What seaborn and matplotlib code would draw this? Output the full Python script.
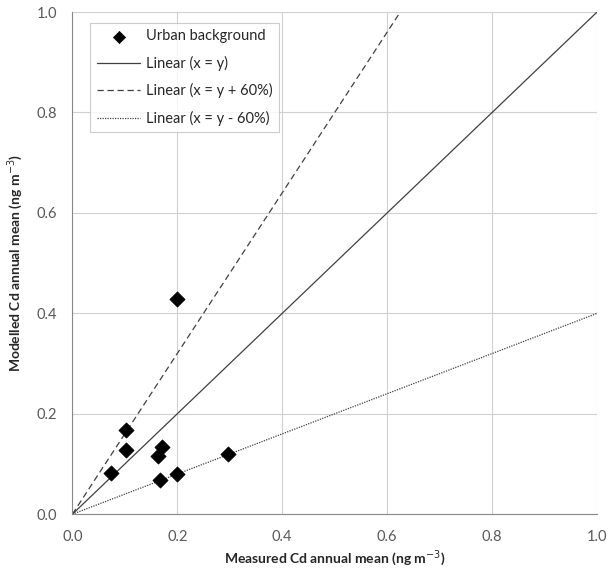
import matplotlib
matplotlib.use("Agg")
import matplotlib.pyplot as plt
import seaborn as sns
import pandas as pd

# measured vs modelled Cd (ng m-3), urban background sites
measured = [0.074, 0.102, 0.102, 0.170, 0.164, 0.167, 0.200, 0.297, 0.200]
modelled = [0.082, 0.167, 0.127, 0.133, 0.115, 0.069, 0.081, 0.120, 0.428]

# reference lines
line_x = [0.0, 1.0]
line_equal = [0.0, 1.0]
line_plus60 = [0.0, 1.6]
line_minus60 = [0.0, 0.4]

ticks = [0.0, 0.2, 0.4, 0.6, 0.8, 1.0]

sns.set_style("white")
plt.rcParams["font.family"] = ["Lato", "DejaVu Sans"]

df = pd.DataFrame({"measured": measured, "modelled": modelled})

fig = plt.figure(figsize=(6.13, 5.72), dpi=100)
ax = fig.add_axes([0.118, 0.101, 0.856, 0.878])

sns.scatterplot(data=df, x="measured", y="modelled", marker="D", s=60,
                color="black", edgecolor="black", linewidth=0.5,
                label="Urban background", ax=ax, zorder=5)
sns.lineplot(x=line_x, y=line_equal, color="#404040", linewidth=0.9,
             label="Linear (x = y)", ax=ax)
sns.lineplot(x=line_x, y=line_plus60, color="#404040", linewidth=0.9,
             linestyle=(0, (5, 3)), label="Linear (x = y + 60%)", ax=ax)
sns.lineplot(x=line_x, y=line_minus60, color="#404040", linewidth=0.9,
             linestyle=(0, (1, 1)), label="Linear (x = y - 60%)", ax=ax)

ax.set_xlim(0, 1)
ax.set_ylim(0, 1)
ax.set_xticks(ticks)
ax.set_yticks(ticks)
ax.set_xticklabels([f"{t:.1f}" for t in ticks])
ax.set_yticklabels([f"{t:.1f}" for t in ticks])
ax.grid(True, color="#d0d0d0", linewidth=0.8)
ax.set_axisbelow(True)
for s in ["top", "right"]:
    ax.spines[s].set_visible(False)
for s in ["left", "bottom"]:
    ax.spines[s].set_color("#888888")
    ax.spines[s].set_linewidth(0.8)
ax.tick_params(axis="both", which="major", direction="out", length=4,
               color="#888888", labelsize=10.5, labelcolor="#595959", pad=7)

ax.set_xlabel("Measured Cd annual mean (ng m$^{-3}$)", fontsize=10,
              fontweight="bold", labelpad=3)
ax.set_ylabel("Modelled Cd annual mean (ng m$^{-3}$)", fontsize=10,
              fontweight="bold", labelpad=8)

leg = ax.legend(loc="upper left", bbox_to_anchor=(0.02, 0.993), fontsize=10.5,
                frameon=True, fancybox=False, edgecolor="#c0c0c0",
                handlelength=3.0, labelspacing=0.85, borderpad=0.45,
                handletextpad=0.4, markerscale=0.8)
leg.get_frame().set_linewidth(0.8)

fig.savefig("out.png", dpi=100)
